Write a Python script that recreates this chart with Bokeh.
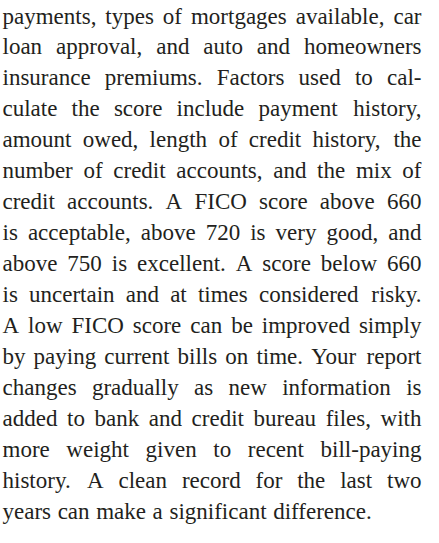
from bokeh.plotting import figure
from bokeh.models import Range1d, ColumnDataSource
from bokeh.embed import file_html
from bokeh.resources import INLINE
from bokeh.core.properties import value

# ---- content ----
lines = [
    "payments, types of mortgages available, car",
    "loan approval, and auto and homeowners",
    "insurance premiums. Factors used to cal-",
    "culate the score include payment history,",
    "amount owed, length of credit history, the",
    "number of credit accounts, and the mix of",
    "credit accounts. A FICO score above 660",
    "is acceptable, above 720 is very good, and",
    "above 750 is excellent. A score below 660",
    "is uncertain and at times considered risky.",
    "A low FICO score can be improved simply",
    "by paying current bills on time. Your report",
    "changes gradually as new information is",
    "added to bank and credit bureau files, with",
    "more weight given to recent bill-paying",
    "history. A clean record for the last two",
    "years can make a significant difference.",
]
justified = [True] * 16 + [False]

# ---- font metrics (Times / Liberation Serif advance widths, per 1000 em) ----
ADV = {
    " ": 250, ",": 250, ".": 250, "-": 333,
    "a": 444, "b": 500, "c": 444, "d": 500, "e": 444, "f": 333, "g": 500,
    "h": 500, "i": 278, "j": 278, "k": 500, "l": 278, "m": 778, "n": 500,
    "o": 500, "p": 500, "q": 500, "r": 333, "s": 389, "t": 278, "u": 500,
    "v": 500, "w": 722, "x": 500, "y": 500, "z": 444,
    "A": 722, "C": 667, "F": 556, "I": 333, "O": 722, "Y": 722,
}
for d in "0123456789":
    ADV[d] = 500

FONT = "Liberation Serif"
FS = 23.0
LEFT, RIGHT = 2.0, 421.0
FIRST_BASE, LEADING = 15.5, 30.95
COLOR = "#231f20"

W_FIG, H_FIG = 422, 527


def adv(s):
    return sum(ADV.get(c, 500) for c in s) * FS / 1000.0


lx, ly, lt = [], [], []
rx, ry, rt = [], [], []
for i, line in enumerate(lines):
    y = FIRST_BASE + i * LEADING
    words = line.split(" ")
    widths = [adv(w) for w in words]
    if justified[i] and len(words) > 1:
        gap = (RIGHT - LEFT - sum(widths)) / (len(words) - 1)
    else:
        gap = adv(" ") * 1.15
    x = LEFT
    for j, (w, wd) in enumerate(zip(words, widths)):
        if justified[i] and j == len(words) - 1 and len(words) > 1:
            rx.append(RIGHT); ry.append(y); rt.append(w)
        else:
            lx.append(x); ly.append(y); lt.append(w)
        x += wd + gap

p = figure(frame_width=W_FIG, frame_height=H_FIG, output_backend="svg", toolbar_location=None,
           x_range=Range1d(0, W_FIG), y_range=Range1d(H_FIG, 0),
           x_axis_location=None, y_axis_location=None,
           min_border=0, outline_line_color=None, title=None)
p.grid.visible = False
p.background_fill_color = "white"
p.border_fill_color = "white"

common = dict(text_font=value(FONT), text_font_size=value(f"{FS}px"),
              text_color=COLOR, text_baseline="alphabetic")
p.text(x="x", y="y", text="t", source=ColumnDataSource(dict(x=lx, y=ly, t=lt)),
       text_align="left", **common)
p.text(x="x", y="y", text="t", source=ColumnDataSource(dict(x=rx, y=ry, t=rt)),
       text_align="right", **common)

open("out.html", "w").write(file_html(p, INLINE))
